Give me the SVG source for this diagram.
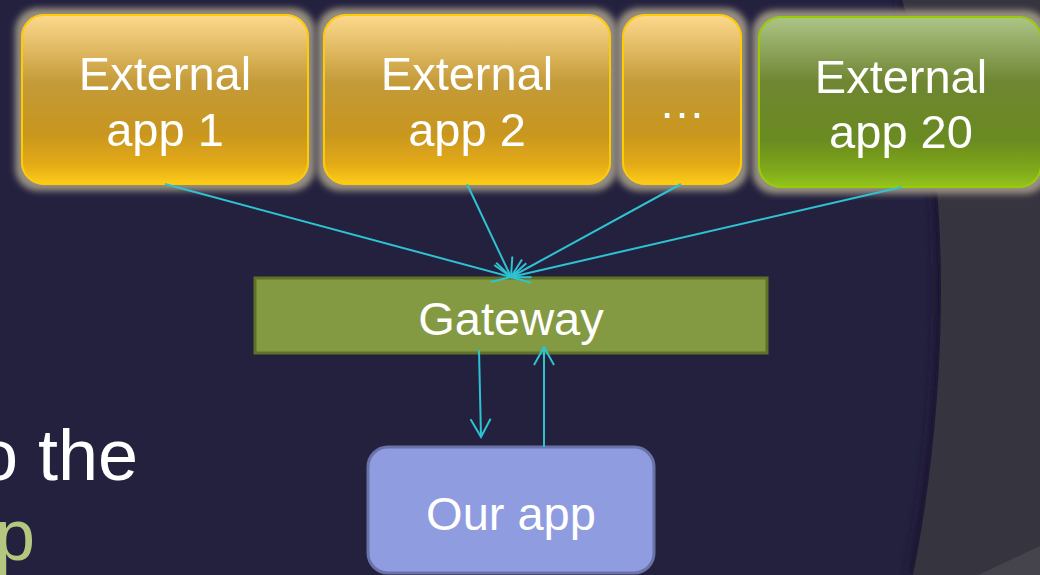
<svg xmlns="http://www.w3.org/2000/svg" width="1040" height="575" viewBox="0 0 1040 575">
<defs>
<style>
.lbl{font-family:"Liberation Sans",Arial,sans-serif;font-size:47px;fill:#ffffff;text-anchor:middle}
.conn{stroke:#2DC3D3;stroke-width:2;fill:none}
</style>
<linearGradient id="gy" x1="0" y1="0" x2="0" y2="1">
<stop offset="0" stop-color="#FDD98D"/>
<stop offset="0.4" stop-color="#C49B39"/>
<stop offset="0.7" stop-color="#C8961F"/>
<stop offset="0.88" stop-color="#E3AA18"/>
<stop offset="1" stop-color="#FDCC1A"/>
</linearGradient>
<linearGradient id="gg" x1="0" y1="0" x2="0" y2="1">
<stop offset="0" stop-color="#ADC488"/>
<stop offset="0.38" stop-color="#6F8632"/>
<stop offset="0.72" stop-color="#6A8A21"/>
<stop offset="0.9" stop-color="#7FA91B"/>
<stop offset="1" stop-color="#93C41C"/>
</linearGradient>
<filter id="glow" x="-20%" y="-30%" width="140%" height="160%">
<feMorphology in="SourceAlpha" operator="dilate" radius="6" result="d"/>
<feGaussianBlur in="d" stdDeviation="3" result="b"/>
<feFlood flood-color="#968F80"/>
<feComposite in2="b" operator="in" result="g"/>
<feMerge><feMergeNode in="g"/><feMergeNode in="SourceGraphic"/></feMerge>
</filter>
<filter id="shadow" x="-50%" y="-10%" width="200%" height="120%">
<feGaussianBlur stdDeviation="5"/>
</filter>
<marker id="ah" markerUnits="userSpaceOnUse" markerWidth="24" markerHeight="24" viewBox="-20 -12 24 24" refX="0" refY="0" orient="auto">
<path d="M-18,-10 L0,0 L-18,10" fill="none" stroke="#2DC3D3" stroke-width="2"/>
</marker>
</defs>
<rect width="1040" height="575" fill="#24213F"/>
<path d="M902,0 C952,150 952,380 913,575" fill="none" stroke="#1A1830" stroke-width="12" filter="url(#shadow)"/>
<path d="M902,0 C952,150 952,380 913,575 L1040,575 L1040,0 Z" fill="#36343F"/>
<path d="M978,575 L1040,546 L1040,575 Z" fill="#45434B"/>
<text x="-22" y="480" style="font-family:'Liberation Sans',Arial,sans-serif;font-size:72px;fill:#ffffff">o the</text>
<text x="-5" y="560" style="font-family:'Liberation Sans',Arial,sans-serif;font-size:72px;fill:#B3C77E">p</text>
<g id="app1" filter="url(#glow)">
<rect x="22" y="15" width="286" height="169" rx="22" fill="url(#gy)" stroke="#FFCC00" stroke-width="2"/>
<text class="lbl" x="165" y="90">External</text>
<text class="lbl" x="165" y="146">app 1</text>
</g>
<g id="app2" filter="url(#glow)">
<rect x="324" y="15" width="286" height="169" rx="22" fill="url(#gy)" stroke="#FFCC00" stroke-width="2"/>
<text class="lbl" x="467" y="90">External</text>
<text class="lbl" x="467" y="146">app 2</text>
</g>
<g id="appdots" filter="url(#glow)">
<rect x="623" y="15" width="118" height="169" rx="22" fill="url(#gy)" stroke="#FFCC00" stroke-width="2"/>
<text class="lbl" x="682" y="118">…</text>
</g>
<g id="app20" filter="url(#glow)">
<rect x="759" y="17" width="282" height="170" rx="22" fill="url(#gg)" stroke="#99CC00" stroke-width="2"/>
<text class="lbl" x="901" y="93">External</text>
<text class="lbl" x="901" y="148">app 20</text>
</g>
<g id="gateway">
<rect x="255" y="278" width="512" height="75" fill="#849A42" stroke="#5E7228" stroke-width="3"/>
<text class="lbl" x="511" y="335">Gateway</text>
</g>
<g id="ourapp">
<rect x="368" y="447" width="286" height="126" rx="20" fill="#8F9CE0" stroke="#6A73A8" stroke-width="3"/>
<text class="lbl" x="511" y="530">Our app</text>
</g>
<g id="connectors">
<line class="conn" x1="165" y1="184" x2="511" y2="277" marker-end="url(#ah)"/>
<line class="conn" x1="467" y1="184" x2="511" y2="277" marker-end="url(#ah)"/>
<line class="conn" x1="681" y1="184" x2="511" y2="277" marker-end="url(#ah)"/>
<line class="conn" x1="902" y1="187" x2="511" y2="277" marker-end="url(#ah)"/>
<line class="conn" x1="479" y1="350" x2="481" y2="437" marker-end="url(#ah)"/>
<line class="conn" x1="544" y1="447" x2="544" y2="347" marker-end="url(#ah)"/>
</g>
</svg>
